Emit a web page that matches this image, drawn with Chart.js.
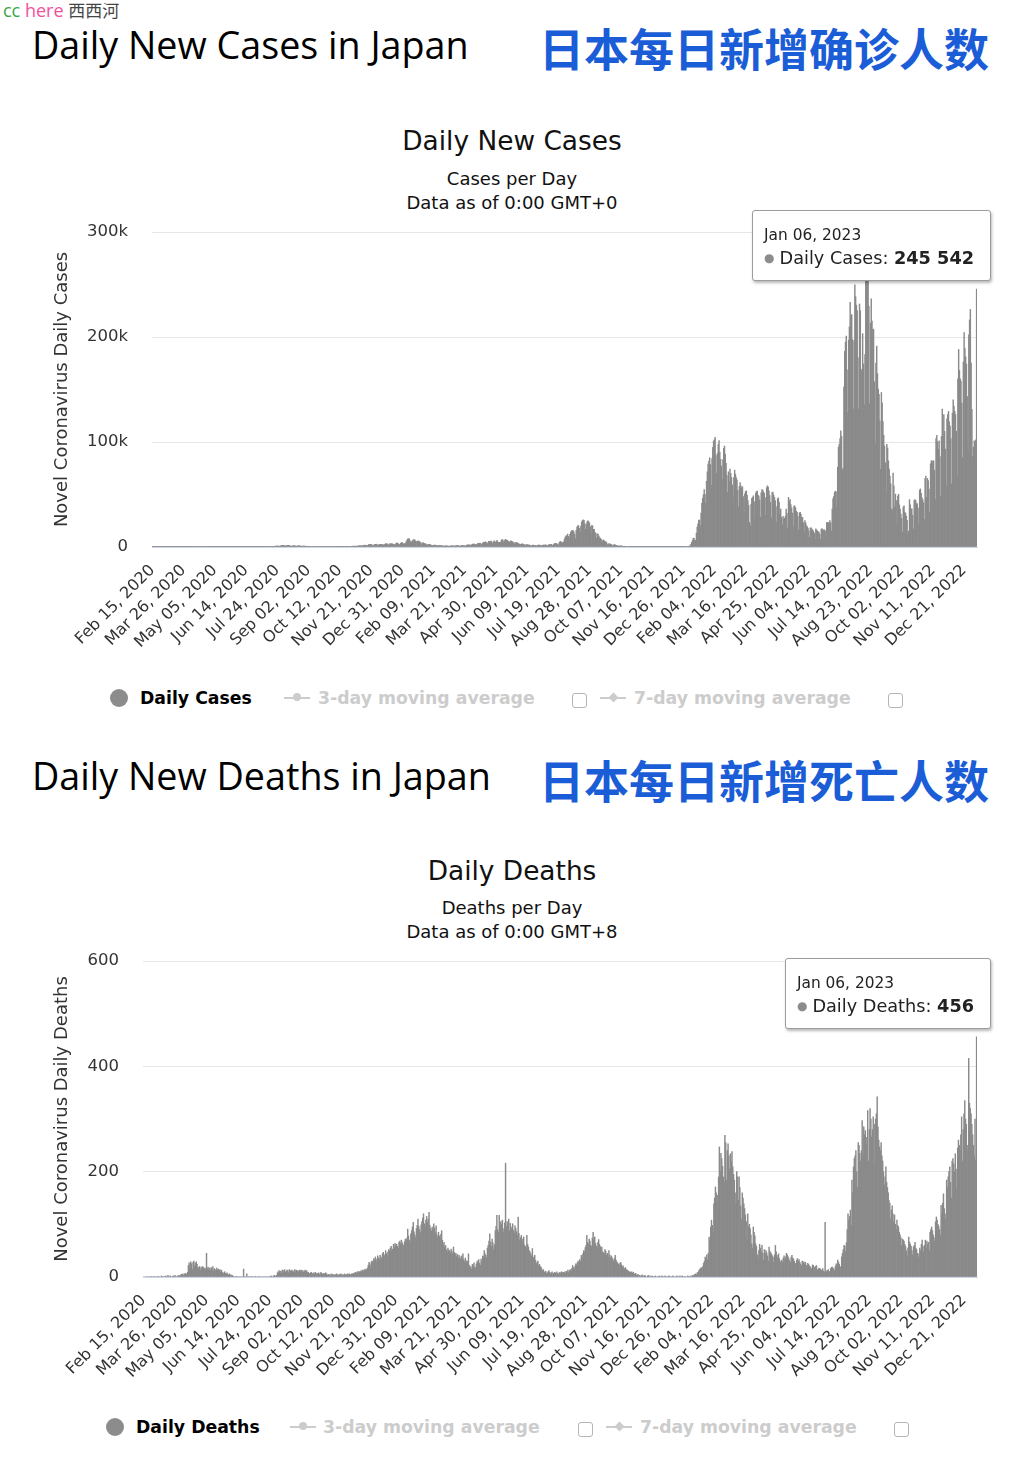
<!DOCTYPE html>
<html>
<head>
<meta charset="utf-8">
<title>Daily New Cases / Deaths in Japan</title>
<script src="https://cdn.jsdelivr.net/npm/chart.js@4.4.1/dist/chart.umd.min.js"></script>
<style>
  html, body { margin: 0; padding: 0; background: #fff; }
  body { width: 1018px; height: 1466px; position: relative; overflow: hidden; font-family: "DejaVu Sans", sans-serif; color: #000; }
  .abs { position: absolute; white-space: nowrap; line-height: normal; }
  .brand { left: 3px; top: -3px; font-size: 18px; font-family: "Open Sans", sans-serif; }
  .brand .c1 { color: #3aa845; }
  .brand .c2 { color: #f2529c; }
  .brand .c3 { color: #444; font-family: "Noto Sans CJK SC", sans-serif; font-size: 17px; }
  .h1 { left: 32px; font-size: 37.7px; color: #000; font-family: "Open Sans", sans-serif; }
  .zh { left: 539px; font-family: "Noto Sans CJK SC", sans-serif; font-weight: bold; font-size: 45px; color: #1a5dd6; }
  .ctitle { left: 0; width: 1024px; text-align: center; font-size: 26.4px; color: #111; }
  .csub { left: 0; width: 1024px; text-align: center; font-size: 18px; color: #111; }
  canvas { position: absolute; left: 0; }
  .leg { position: absolute; font-size: 17.3px; font-weight: bold; white-space: nowrap; line-height: 24px; }
  .leg.off { color: #cccccc; }
  .dot { position: absolute; width: 18px; height: 18px; border-radius: 50%; background: #8c8c8c; }
  .sym { position: absolute; width: 26px; height: 2px; background: #cccccc; }
  .sym i { position: absolute; left: 9px; top: -4px; width: 8px; height: 8px; background: #cccccc; border-radius: 50%; }
  .sym i.dia { border-radius: 0; transform: rotate(45deg); width: 7px; height: 7px; left: 9.5px; top: -3.5px; }
  .box { position: absolute; width: 13px; height: 13px; border: 1px solid #b5b5b5; border-radius: 3px; background: #fff; }
  .tip { position: absolute; display: none; background: #fff; border: 1px solid #9c9c9c; border-radius: 3px;
         box-shadow: 1px 2px 3px rgba(0,0,0,0.28); padding: 14px 16px 6px 11px; white-space: nowrap; color: #222; }
  .tip .tt-title { font-size: 15.4px; line-height: 20px; }
  .tip .tt-row { font-size: 17.7px; line-height: 27px; }
  .tip .tt-dot { color: #8c8c8c; font-size: 12px; margin-right: 5px; position: relative; top: -2px; }
  .tip .tt-value { font-weight: bold; }
</style>
</head>
<body>
<script>
// ---- data (Feb 15, 2020 .. Jan 06, 2023, one value per day) ----
const startDate = Date.UTC(2020, 1, 15);

const cases2020 = [
  5, 7, 7, 11, 11, 10, 13, 12, 14, 12, 14, 20, 23, 19, 14,
  15, 19, 17, 33, 31, 59, 47, 33, 26, 59, 52, 54, 41, 60, 34, 15, 41, 44, 39, 33, 53, 43, 39, 65, 93, 96, 112, 194, 173, 78, 225,
  266, 235, 351, 368, 383, 252, 351, 515, 576, 708, 743, 507, 391, 455, 549, 482, 574, 584, 568, 372, 387, 437, 431, 435, 348, 201, 174, 279, 202, 159,
  167, 263, 203, 175, 123, 99, 100, 83, 113, 75, 52, 89, 55, 99, 43, 30, 15, 35, 15, 29, 38, 28, 27, 14, 21, 29, 35, 29, 42, 38, 46,
  25, 37, 43, 44, 47, 41, 38, 32, 35, 54, 40, 56, 41, 47, 73, 73, 46, 45, 69, 61, 56, 55, 55, 76, 88, 109, 99, 117, 93, 121,
  130, 196, 246, 276, 273, 199, 205, 340, 429, 422, 370, 423, 240, 331, 448, 622, 665, 664, 510, 418, 631, 802, 978, 778, 846, 853, 602, 981, 1264, 1301, 1580,
  1536, 1343, 956, 1233, 1347, 1483, 1597, 1564, 1460, 821, 703, 987, 1171, 1358, 1234, 1005, 628, 955, 1076, 1184, 1026, 1033, 837, 533, 906, 874, 891, 812, 793, 594, 433,
  601, 618, 577, 621, 510, 418, 366, 458, 511, 635, 629, 567, 438, 333, 531, 495, 578, 601, 449, 414, 320, 271, 326, 489, 480, 643, 423, 289, 525, 577,
  486, 573, 593, 440, 372, 509, 575, 606, 615, 473, 367, 287, 605, 618, 741, 665, 624, 468, 357, 521, 637, 648, 600, 582, 458, 534, 625, 727, 799, 796, 768,
  613, 893, 883, 656, 1123, 1140, 1270, 1084, 928, 1282, 1588, 1650, 1708, 1730, 1439, 945, 1699, 2203, 2387, 2428, 2596, 2168, 1521, 1228, 1952, 2503, 2510, 2684, 2068, 1438,
  2025, 2433, 2518, 2440, 2508, 2032, 1999, 2023, 2810, 2971, 3041, 3020, 2399, 1682, 3016, 3211, 3017, 2995, 2893, 2493, 1800, 2626, 3268, 3751, 3807, 2949, 2216, 2389, 3590, 3851, 4521
];
const cases2021 = [
  3158, 3059, 3122, 3325, 4915, 6004, 7570, 7882, 7790, 6094, 4876, 4537, 5874, 6605, 7133, 6987, 5754, 4924, 5320, 5653, 5698, 5045, 4715, 3990, 1824, 3853, 3960, 3538, 3342, 3036, 2279,
  1792, 2324, 2631, 2368, 2277, 1854, 1530, 1214, 1565, 1711, 1880, 1359, 1457, 1066, 1307, 1302, 1532, 1378, 1306, 1241, 1080, 750, 850, 1077, 1078, 1015, 993, 992,
  707, 849, 1026, 1175, 1149, 1062, 1065, 639, 1000, 1327, 1293, 1321, 1286, 1231, 715, 1012, 1546, 1495, 1468, 1469, 1118, 815, 1526, 1915, 1959, 2021, 2082, 1783, 1266, 2086, 2843,
  2594, 2776, 2766, 2471, 1566, 2651, 3451, 3442, 3454, 3701, 2773, 1922, 3451, 4570, 4532, 4573, 4798, 4091, 2777, 4325, 5290, 5500, 5126, 5606, 4603, 3312, 4889, 5792, 4674, 4679,
  5967, 5896, 4379, 4123, 4359, 4315, 6055, 7234, 6476, 4893, 5942, 7050, 7049, 6271, 6417, 5235, 3677, 5231, 5722, 5697, 5257, 4716, 4113, 2834, 4023, 4360, 4166, 3597, 3318, 2682, 1785,
  2648, 2956, 2836, 2766, 2557, 1929, 1245, 2219, 2244, 2000, 1854, 1941, 1387, 937, 1414, 1721, 1745, 1608, 1549, 1308, 912, 1413, 1751, 1722, 1613, 1775, 1409, 1075, 1548, 1890,
  1822, 1859, 1981, 1621, 928, 1579, 2205, 2224, 2278, 2451, 1922, 1501, 2386, 3196, 3429, 3416, 3102, 2327, 1736, 3758, 5020, 5396, 4225, 3574, 4688, 4692, 7629, 9576, 10687, 10743, 12341,
  10157, 8392, 12016, 14207, 15263, 15753, 15753, 14472, 12076, 7889, 15812, 18889, 20151, 20365, 17705, 14010, 19955, 23917, 25156, 25868, 25492, 22288, 16832, 21570, 24227, 24950, 24150, 22745, 19250, 12374, 20615,
  20018, 16761, 16743, 13997, 12917, 8209, 12444, 12403, 10395, 8918, 8220, 7223, 4170, 6012, 6768, 5800, 5111, 4866, 4123, 2223, 2061, 3234, 2983, 2581, 2327, 1938, 1159, 2009, 2098, 1950,
  1574, 1454, 1168, 609, 1140, 1133, 1012, 979, 801, 698, 369, 617, 716, 621, 504, 510, 424, 230, 378, 390, 342, 347, 283, 255, 156, 248, 299, 286, 276, 237, 258,
  86, 159, 183, 126, 151, 170, 162, 104, 159, 203, 199, 180, 210, 144, 78, 135, 137, 154, 141, 123, 126, 50, 74, 78, 121, 109, 121, 115, 82, 116,
  122, 129, 115, 125, 109, 70, 110, 157, 170, 148, 161, 122, 117, 157, 175, 142, 196, 178, 186, 113, 182, 263, 227, 284, 308, 161, 224, 376, 505, 484, 554
];
const cases2022 = [
  534, 553, 782, 1265, 2638, 4475, 6214, 8480, 8249, 6438, 6377, 13244, 18860, 22045, 25742, 25631, 20378, 32197, 41485, 46199, 49854, 54576, 50045, 41856, 62613, 71633, 78930, 81825, 84941, 78442, 58844,
  84225, 94931, 100941, 102180, 104471, 87418, 70286, 89168, 97781, 101288, 90346, 83436, 77090, 64312, 83163, 94047, 96162, 88428, 79567, 68285, 52048, 71638, 62317, 74108, 70201, 66283, 59183, 47297,
  66204, 73215, 69310, 66151, 64082, 54076, 38417, 57521, 61303, 58359, 56187, 57417, 48131, 31278, 50573, 52893, 53362, 49323, 44211, 39585, 23564, 20396, 40847, 46263, 47330, 48739, 42964, 27398, 51393, 52709, 53301,
  49332, 48436, 44874, 28340, 51882, 54587, 54133, 52461, 51063, 47069, 30324, 56492, 58296, 57018, 53247, 48898, 42626, 27624, 51880, 52316, 49473, 47244, 44279, 38447, 23658, 45903, 46791, 42498, 31582, 36175,
  28231, 21232, 29263, 26480, 27324, 29151, 36121, 32108, 18349, 47328, 43262, 45211, 40405, 37153, 32385, 19349, 38712, 39243, 37324, 34111, 33012, 29237, 16263, 32511, 33062, 31233, 28310, 28126, 23149, 13290, 25164,
  23108, 20363, 19264, 18112, 15328, 9114, 18127, 18232, 17018, 16187, 15044, 13280, 7390, 17234, 16184, 15374, 14542, 14218, 12423, 7226, 17076, 17276, 16154, 16201, 16352, 15419, 9446, 23197, 23466, 23118,
  23126, 25180, 23212, 15188, 36164, 45821, 47990, 51940, 53144, 52599, 38114, 76016, 95124, 97769, 103287, 110603, 105593, 73581, 75135, 152537, 186246, 195160, 200975, 168818, 127930, 197010, 209694, 233094, 220355, 221285, 197585,
  131434, 196450, 249782, 238421, 230224, 225140, 180192, 131454, 231434, 225051, 169281, 167329, 203182, 174356, 135341, 183262, 254354, 255534, 261029, 253264, 229106, 136401, 213215, 236389, 215101, 207181, 207426, 157338, 98453, 175249, 191331,
  165163, 150315, 145402, 120136, 74062, 147165, 137291, 119418, 106236, 96121, 80286, 50381, 97738, 94321, 82117, 74313, 67462, 60101, 36231, 35125, 70371, 58328, 38142, 50384, 44163, 22174, 48417, 50233, 40110, 36149,
  31384, 27245, 14237, 38119, 39122, 33225, 32118, 29318, 25291, 12171, 15224, 45126, 40264, 36184, 36261, 30213, 17265, 44284, 45232, 44278, 41171, 41325, 37139, 22278, 54119, 55306, 51208, 47141, 45238, 42181, 26139,
  65259, 67473, 47185, 65319, 63215, 55121, 33118, 79264, 82161, 82117, 80130, 82154, 73116, 45107, 103279, 106243, 100291, 93117, 101158, 86121, 48113, 105229, 131276, 105234, 126154, 110131, 93213, 58152, 122174, 126231,
  129119, 119197, 115208, 103153, 60122, 127284, 140146, 134161, 129182, 126148, 110179, 67113, 160185, 188137, 168142, 160128, 158119, 137113, 85165, 176190, 204197, 189126, 181122, 174228, 143163, 92127, 202146, 216219, 226225, 175142, 131165
];
const cases2023 = [86213, 95176, 101148, 100239, 102181, 245542];

const deaths2020 = [
  0, 0, 0, 0, 0, 0, 1, 0, 0, 0, 1, 0, 0, 1, 0,
  0, 1, 0, 1, 0, 1, 0, 0, 2, 1, 0, 1, 0, 2, 1, 0, 3, 1, 0, 2, 1, 0, 1, 2, 1, 3, 1, 0, 2, 1, 3,
  2, 3, 5, 4, 6, 3, 5, 7, 4, 6, 9, 22, 27, 18, 29, 25, 14, 28, 30, 20, 26, 29, 24, 18, 17, 20, 13, 19, 16, 20,
  18, 15, 17, 14, 45, 16, 19, 14, 17, 13, 18, 15, 20, 12, 16, 14, 11, 17, 13, 15, 12, 14, 10, 13, 9, 8, 6, 10, 7, 5, 8,
  5, 4, 6, 3, 4, 2, 3, 1, 0, 1, 0, 1, 0, 0, 1, 0, 0, 1, 0, 0, 15, 0, 1, 0, 6, 0, 1, 0, 0, 1,
  0, 0, 1, 0, 0, 1, 0, 0, 0, 1, 0, 0, 1, 0, 0, 0, 1, 0, 0, 0, 1, 0, 0, 1, 0, 2, 1, 0, 2, 3, 1,
  2, 3, 8, 10, 12, 9, 11, 7, 13, 10, 12, 14, 9, 11, 13, 12, 8, 14, 12, 10, 13, 11, 9, 12, 14, 10, 13, 11, 12, 9, 13,
  11, 13, 10, 12, 9, 11, 13, 10, 12, 8, 9, 7, 6, 8, 9, 5, 7, 8, 6, 9, 5, 7, 6, 8, 5, 6, 9, 7, 5, 6,
  7, 5, 8, 6, 4, 3, 5, 4, 2, 6, 3, 5, 4, 2, 5, 3, 6, 4, 2, 5, 4, 6, 3, 5, 2, 4, 6, 3, 5, 4, 6,
  4, 6, 5, 3, 6, 5, 7, 6, 8, 9, 7, 10, 8, 11, 9, 10, 12, 9, 13, 11, 14, 12, 15, 13, 17, 22, 28, 25, 20, 29,
  30, 27, 35, 32, 38, 29, 34, 40, 36, 33, 41, 38, 35, 44, 47, 39, 42, 50, 45, 41, 48, 52, 50, 55, 58, 49, 53, 62, 57, 64, 60
];
const deaths2021 = [
  62, 58, 55, 66, 68, 63, 70, 65, 61, 59, 67, 72, 69, 74, 91, 78, 70, 66, 82, 88, 95, 104, 86, 80, 75, 92, 98, 110, 96, 90, 84,
  99, 105, 112, 120, 101, 96, 108, 115, 104, 110, 123, 98, 92, 87, 95, 89, 101, 93, 84, 97, 80, 76, 85, 78, 72, 81, 88, 70,
  62, 66, 57, 60, 52, 48, 55, 51, 50, 46, 53, 49, 44, 57, 47, 42, 45, 39, 43, 36, 41, 38, 34, 40, 37, 44, 33, 29, 36, 31, 27,
  30, 44, 22, 18, 20, 15, 24, 21, 27, 19, 17, 25, 30, 28, 33, 26, 22, 34, 29, 40, 38, 50, 44, 41, 36, 55, 60, 68, 82, 66,
  58, 72, 65, 52, 61, 88, 96, 117, 90, 85, 117, 98, 105, 100, 108, 85, 92, 103, 216, 96, 105, 99, 110, 88, 102, 95, 91, 101, 89, 84, 97,
  92, 86, 80, 114, 83, 70, 75, 79, 68, 72, 76, 61, 58, 55, 79, 62, 57, 50, 48, 44, 40, 54, 38, 35, 41, 32, 25, 28, 30, 22,
  24, 20, 19, 15, 12, 14, 10, 9, 11, 7, 8, 10, 12, 9, 6, 8, 10, 5, 7, 9, 8, 6, 10, 7, 5, 8, 9, 6, 10, 8, 9,
  8, 10, 7, 11, 9, 13, 8, 12, 14, 11, 16, 22, 18, 15, 20, 25, 23, 27, 30, 26, 33, 29, 41, 36, 44, 50, 48, 56, 60, 79, 66,
  63, 72, 68, 60, 58, 74, 85, 70, 76, 64, 59, 55, 66, 71, 62, 58, 54, 57, 48, 46, 44, 52, 49, 41, 45, 38, 50, 42, 36, 40,
  37, 33, 30, 35, 41, 32, 29, 27, 24, 22, 26, 28, 23, 19, 21, 17, 15, 18, 14, 13, 12, 11, 9, 10, 8, 10, 7, 9, 6, 5, 7,
  4, 3, 5, 2, 3, 1, 2, 4, 2, 1, 3, 2, 1, 0, 2, 3, 1, 2, 0, 1, 2, 1, 0, 1, 2, 0, 1, 0, 1, 2,
  1, 0, 2, 1, 0, 1, 2, 0, 1, 0, 1, 2, 1, 0, 1, 0, 2, 1, 0, 1, 0, 2, 1, 0, 1, 2, 0, 1, 2, 1, 0
];
const deaths2022 = [
  1, 0, 1, 0, 2, 1, 0, 1, 2, 1, 3, 2, 4, 5, 6, 4, 8, 9, 12, 14, 16, 18, 15, 20, 26, 30, 38, 35, 42, 33, 45,
  76, 70, 95, 108, 98, 85, 139, 150, 171, 160, 142, 155, 190, 247, 200, 235, 225, 210, 190, 180, 269, 255, 184, 240, 253, 230, 205, 234,
  220, 238, 209, 195, 184, 160, 140, 200, 190, 146, 190, 170, 135, 110, 160, 150, 139, 130, 118, 105, 70, 120, 95, 100, 92, 80, 63, 55, 95, 85, 78,
  63, 58, 42, 35, 50, 62, 55, 48, 60, 45, 32, 52, 44, 50, 46, 40, 30, 57, 49, 46, 44, 40, 38, 28, 42, 60, 48, 41, 38, 44,
  35, 30, 26, 32, 28, 36, 40, 33, 38, 45, 42, 39, 35, 31, 28, 38, 41, 36, 34, 30, 26, 25, 32, 35, 30, 33, 28, 24, 21, 30, 27,
  29, 25, 28, 22, 18, 26, 24, 21, 20, 17, 15, 23, 22, 19, 18, 20, 22, 14, 12, 17, 16, 15, 13, 12, 16, 11, 9, 104, 12, 10,
  12, 14, 11, 9, 16, 18, 19, 17, 15, 12, 20, 25, 22, 32, 28, 24, 20, 18, 38, 45, 52, 60, 58, 48, 65, 90, 120, 108, 115, 127, 98,
  184, 160, 209, 225, 230, 240, 200, 170, 255, 250, 235, 220, 240, 297, 230, 285, 270, 278, 265, 250, 316, 220, 280, 320, 300, 266, 280, 304, 210, 290, 300,
  310, 342, 285, 260, 247, 240, 255, 230, 220, 200, 175, 190, 209, 180, 170, 160, 145, 140, 110, 127, 135, 120, 105, 118, 100, 90, 108, 98, 95, 85,
  80, 75, 60, 72, 70, 68, 62, 58, 50, 40, 55, 76, 66, 62, 58, 50, 42, 57, 60, 66, 55, 52, 45, 38, 44, 55, 50, 62, 70, 58, 48,
  60, 70, 55, 68, 62, 66, 50, 85, 90, 95, 88, 80, 75, 68, 105, 114, 108, 100, 96, 90, 80, 136, 120, 140, 158, 130, 120, 110, 184, 170,
  190, 200, 209, 180, 150, 220, 225, 215, 200, 234, 205, 170, 245, 260, 250, 240, 270, 304, 220, 280, 310, 335, 300, 290, 250, 240, 415, 330, 320, 310, 290
];
const deaths2023 = [270, 250, 230, 300, 222, 456];

const dailyCases = [].concat(cases2020, cases2021, cases2022, cases2023);
const dailyDeaths = [].concat(deaths2020, deaths2021, deaths2022, deaths2023);

const monthNames = ['Jan', 'Feb', 'Mar', 'Apr', 'May', 'Jun', 'Jul', 'Aug', 'Sep', 'Oct', 'Nov', 'Dec'];
const labelEvery = 40;
</script>

<div class="abs brand"><span class="c1">cc</span> <span class="c2">here</span> <span class="c3">西西河</span></div>

<!-- cases block -->
<div class="abs h1" style="top:19px">Daily New Cases in Japan</div>
<div class="abs zh" style="top:15px">日本每日新增确诊人数</div>
<div class="abs ctitle" style="top:125px">Daily New Cases</div>
<div class="abs csub" style="top:168px">Cases per Day</div>
<div class="abs csub" style="top:192px">Data as of 0:00 GMT+0</div>
<canvas id="casesChart" width="1018" height="455" style="top:215px;width:1018px;height:455px"></canvas>
<div class="tip" id="casesChart-tip"><div class="tt-title"></div><div class="tt-row"><span class="tt-dot">●</span><span class="tt-name"></span><span class="tt-value"></span></div></div>

<!-- deaths block -->
<div class="abs h1" style="top:750px">Daily New Deaths in Japan</div>
<div class="abs zh" style="top:747px">日本每日新增死亡人数</div>
<div class="abs ctitle" style="top:855px">Daily Deaths</div>
<div class="abs csub" style="top:897px">Deaths per Day</div>
<div class="abs csub" style="top:921px">Data as of 0:00 GMT+8</div>
<canvas id="deathsChart" width="1018" height="456" style="top:944px;width:1018px;height:456px"></canvas>
<div class="tip" id="deathsChart-tip"><div class="tt-title"></div><div class="tt-row"><span class="tt-dot">●</span><span class="tt-name"></span><span class="tt-value"></span></div></div>

<script>
Chart.defaults.font.family = '"DejaVu Sans", sans-serif';
Chart.defaults.color = '#333';

function dayLabel(i) {
    const d = new Date(startDate + i * 86400000);
    const dd = String(d.getUTCDate()).padStart(2, '0');
    return monthNames[d.getUTCMonth()] + ' ' + dd + ', ' + d.getUTCFullYear();
}

function spaced(n) {
    return String(n).replace(/\B(?=(\d{3})+(?!\d))/g, ' ');
}

// Highcharts-like tooltip, drawn as html next to the chart
function externalTooltip(context) {
    const chart = context.chart;
    const tip = context.tooltip;
    const el = document.getElementById(chart.canvas.id + '-tip');
    if (!tip || tip.opacity === 0 || !tip.dataPoints || !tip.dataPoints.length) {
        el.style.display = 'none';
        return;
    }
    const dp = tip.dataPoints[0];
    el.querySelector('.tt-title').textContent = dp.label;
    el.querySelector('.tt-name').textContent = dp.dataset.label + ': ';
    el.querySelector('.tt-value').textContent = spaced(dp.raw);
    el.style.display = 'block';
    const top = chart.canvas.offsetTop;
    el.style.left = 'auto';
    el.style.right = (1018 - 991) + 'px';
    el.style.top = (top + dp.element.y - 8 - el.offsetHeight) + 'px';
}

function addLegend(top, xs, name) {
    const items = [
        '<div class="dot" style="left:' + xs[0] + 'px;top:' + (top + 1) + 'px"></div>',
        '<div class="leg" style="left:' + xs[1] + 'px;top:' + (top - 2) + 'px">' + name + '</div>',
        '<div class="sym" style="left:' + xs[2] + 'px;top:' + (top + 9) + 'px"><i></i></div>',
        '<div class="leg off" style="left:' + xs[3] + 'px;top:' + (top - 2) + 'px">3-day moving average</div>',
        '<div class="box" style="left:' + xs[4] + 'px;top:' + (top + 5) + 'px"></div>',
        '<div class="sym" style="left:' + xs[5] + 'px;top:' + (top + 9) + 'px"><i class="dia"></i></div>',
        '<div class="leg off" style="left:' + xs[6] + 'px;top:' + (top - 2) + 'px">7-day moving average</div>',
        '<div class="box" style="left:' + xs[7] + 'px;top:' + (top + 5) + 'px"></div>'
    ];
    document.body.insertAdjacentHTML('beforeend', items.join(''));
}

function makeChart(id, name, values, yMax, yStep, yTitle, plotLeft, tickFmt) {
    const labels = values.map(function(v, i) { return dayLabel(i); });
    const chart = new Chart(document.getElementById(id), {
        type: 'bar',
        data: {
            labels: labels,
            datasets: [{
                label: name,
                data: values,
                backgroundColor: '#8a8a8a',
                borderWidth: 0,
                barPercentage: 1,
                categoryPercentage: 1
            }]
        },
        options: {
            responsive: false,
            animation: false,
            events: [],
            layout: { padding: { top: 17, right: 41, left: 0, bottom: 0 } },
            plugins: {
                legend: { display: false },
                tooltip: { enabled: false, external: externalTooltip }
            },
            scales: {
                x: {
                    grid: { display: false },
                    border: { color: '#ccd6eb', width: 1 },
                    ticks: {
                        autoSkip: false,
                        minRotation: 45,
                        maxRotation: 45,
                        padding: 6,
                        color: '#333',
                        font: { size: 16 },
                        callback: function(value, index) {
                            return index % labelEvery === 0 ? this.getLabelForValue(value) : null;
                        }
                    },
                    afterFit: function(scale) { scale.height = 123; }
                },
                y: {
                    min: 0,
                    max: yMax,
                    grid: { color: '#e6e6e6', drawTicks: false },
                    border: { display: false },
                    ticks: {
                        stepSize: yStep,
                        padding: 24,
                        color: '#333',
                        font: { size: 16.5 },
                        callback: tickFmt
                    },
                    title: {
                        display: true,
                        text: yTitle,
                        color: '#333',
                        font: { size: 18 },
                        padding: { top: 52, bottom: 0 }
                    },
                    afterFit: function(scale) {
                        scale.width = plotLeft;
                        scale.paddingTop = 0;
                        scale.paddingBottom = 0;
                    }
                }
            }
        }
    });
    const last = values.length - 1;
    chart.tooltip.setActiveElements([{ datasetIndex: 0, index: last }], { x: 0, y: 0 });
    chart.update();
    return chart;
}

makeChart('casesChart', 'Daily Cases', dailyCases, 300000, 100000, 'Novel Coronavirus Daily Cases', 152,
    function(v) { return v === 0 ? '0' : (v / 1000) + 'k'; });
makeChart('deathsChart', 'Daily Deaths', dailyDeaths, 600, 200, 'Novel Coronavirus Daily Deaths', 143,
    function(v) { return String(v); });

addLegend(688, [110, 140, 284, 318, 572, 600, 634, 888], 'Daily Cases');
addLegend(1417, [106, 136, 290, 323, 578, 606, 640, 894], 'Daily Deaths');
</script>
</body>
</html>
